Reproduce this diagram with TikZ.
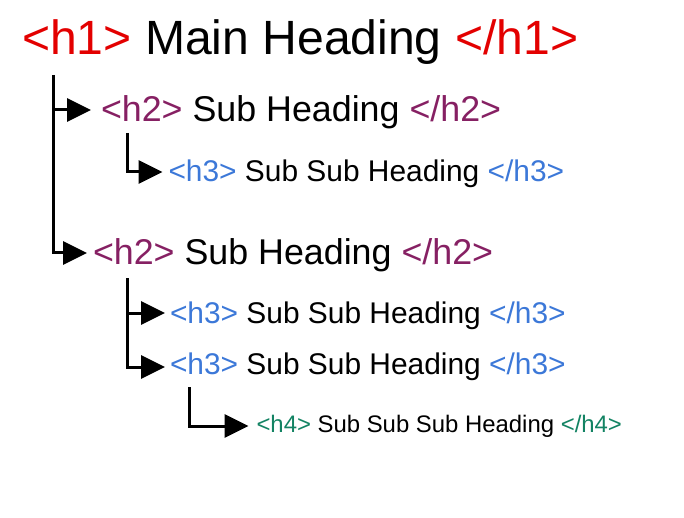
\documentclass[tikz,border=0pt]{standalone}
\usepackage{fontspec}
\setmainfont{Liberation Sans}
\usetikzlibrary{arrows.meta}
\definecolor{hone}{HTML}{E30000}
\definecolor{htwo}{HTML}{862063}
\definecolor{hthree}{HTML}{3C78D8}
\definecolor{hfour}{HTML}{138363}
\begin{document}
\begin{tikzpicture}[x=1pt,y=-1pt,
  lbl/.style={anchor=base west, inner sep=0pt, outer sep=0pt, text=black},
  conn/.style={line width=3pt, -{Triangle[length=24pt,width=23pt]}}]
\useasboundingbox (0,0) rectangle (684,518);
\node[lbl, font=\fontsize{48.1}{57}\selectfont] (h1) at (22,55)
  {\textcolor{hone}{<h1>} Main Heading \textcolor{hone}{</h1>}};
\node[lbl, font=\fontsize{35.8}{42}\selectfont] (h2a) at (101,122)
  {\textcolor{htwo}{<h2>} Sub Heading \textcolor{htwo}{</h2>}};
\node[lbl, font=\fontsize{29.9}{36}\selectfont] (h3a) at (168.5,182)
  {\textcolor{hthree}{<h3>} Sub Sub Heading \textcolor{hthree}{</h3>}};
\node[lbl, font=\fontsize{35.8}{42}\selectfont] (h2b) at (93,264)
  {\textcolor{htwo}{<h2>} Sub Heading \textcolor{htwo}{</h2>}};
\node[lbl, font=\fontsize{29.9}{36}\selectfont] (h3b) at (170,323)
  {\textcolor{hthree}{<h3>} Sub Sub Heading \textcolor{hthree}{</h3>}};
\node[lbl, font=\fontsize{29.9}{36}\selectfont] (h3c) at (170,374)
  {\textcolor{hthree}{<h3>} Sub Sub Heading \textcolor{hthree}{</h3>}};
\node[lbl, font=\fontsize{23.9}{29}\selectfont] (h4) at (256.5,432)
  {\textcolor{hfour}{<h4>} Sub Sub Sub Heading \textcolor{hfour}{</h4>}};
% connector start points and arrow tips
\coordinate (s1) at (53,75);
\coordinate (s2) at (127,133);
\coordinate (s3) at (127,278);
\coordinate (s4) at (189,387);
\coordinate (t2a) at ([shift={(-10pt,12pt)}]h2a.base west);
\coordinate (t3a) at ([shift={(-6pt,10pt)}]h3a.base west);
\coordinate (t2b) at ([shift={(-6pt,11pt)}]h2b.base west);
\coordinate (t3b) at ([shift={(-5pt,10pt)}]h3b.base west);
\coordinate (t3c) at ([shift={(-5pt,7pt)}]h3c.base west);
\coordinate (t4) at ([shift={(-8pt,6pt)}]h4.base west);
\draw[conn] (s1) |- (t2b);
\draw[conn] (s1 |- t2a) -- (t2a);
\draw[conn] (s2) |- (t3a);
\draw[conn] (s3) |- (t3c);
\draw[conn] (s3 |- t3b) -- (t3b);
\draw[conn] (s4) |- (t4);
\end{tikzpicture}
\end{document}
